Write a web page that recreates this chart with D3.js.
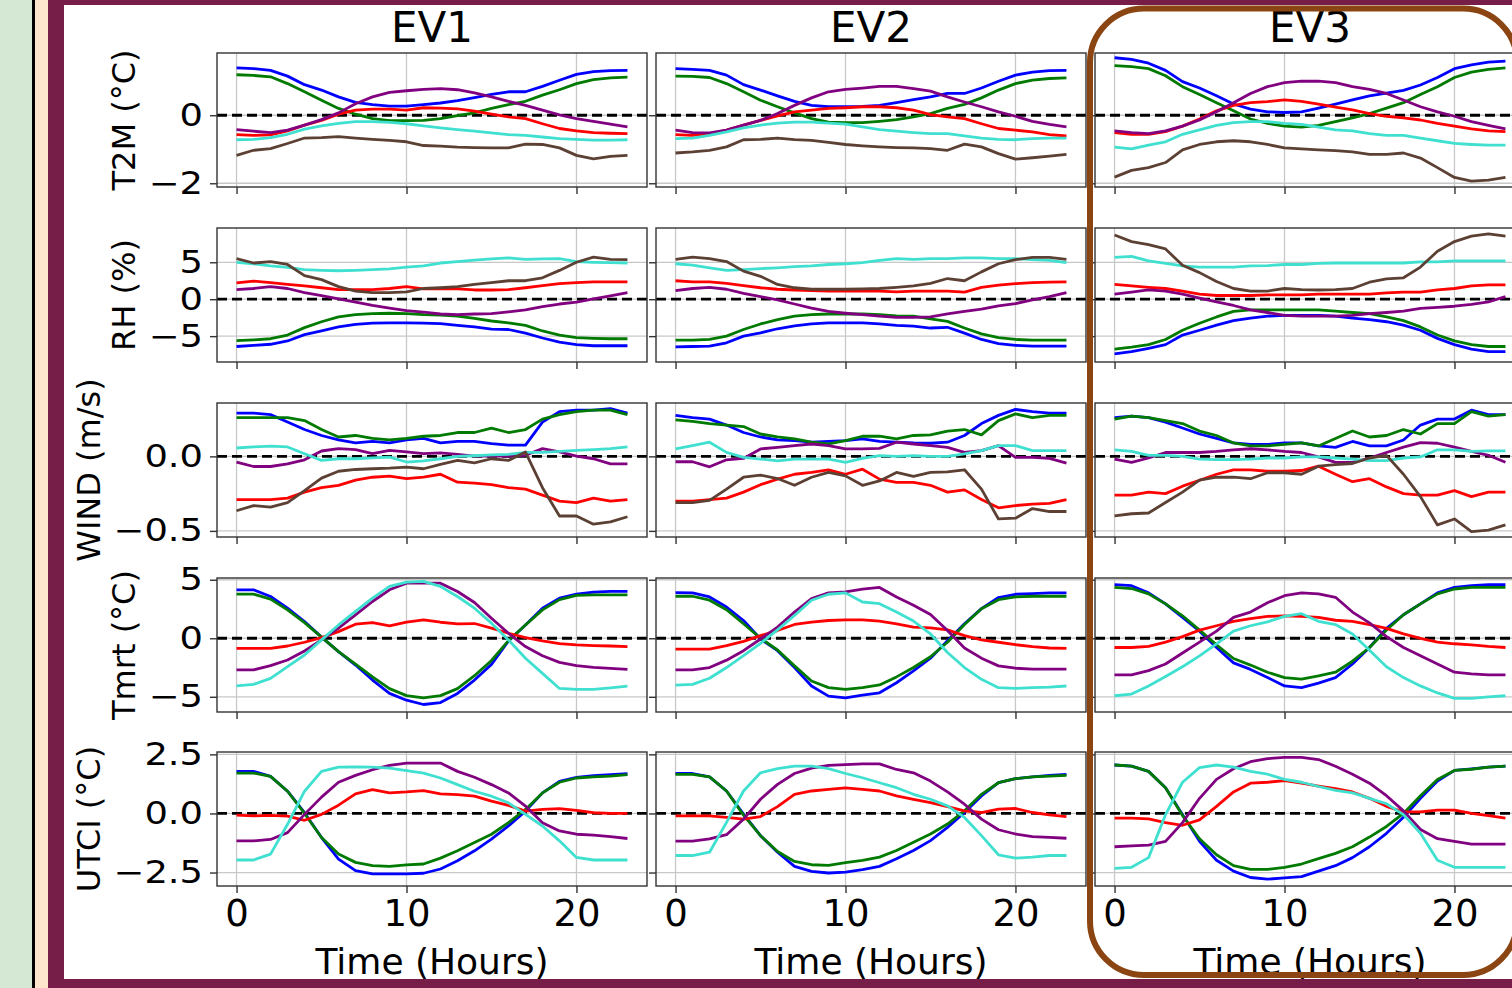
<!DOCTYPE html>
<html>
<head>
<meta charset="utf-8">
<script src="https://cdn.jsdelivr.net/npm/d3@7"></script>
<style>
  html, body { margin: 0; padding: 0; background: #d5e8d3; }
  svg { display: block; font-family: "DejaVu Sans", sans-serif; }
</style>
</head>
<body>
<div id="chart"></div>
<script>
// ---- data ----
const hours = [0, 1, 2, 3, 4, 5, 6, 7, 8, 9, 10, 11, 12, 13, 14, 15, 16, 17, 18, 19, 20, 21, 22, 23];
const events = ["EV1", "EV2", "EV3"];
const variables = ["T2M (°C)", "RH (%)", "WIND (m/s)", "Tmrt (°C)", "UTCI (°C)"];
const yTickValues = [[-2, 0], [-5, 0, 5], [-0.5, 0], [-5, 0, 5], [-2.5, 0, 2.5]];
const yTickLabels = [["−2", "0"], ["−5", "0", "5"], ["−0.5", "0.0"], ["−5", "0", "5"], ["−2.5", "0.0", "2.5"]];
const xTickValues = [0, 10, 20];
const xTickLabels = ["0", "10", "20"];
const yDomains = [[-2.11, 1.83], [-8.5, 9.64], [-0.541, 0.358], [-6.3, 5.15], [-3.07, 2.6]];

const T2M_EV1 = {
  blue: [1.39, 1.37, 1.32, 1.15, 0.9, 0.74, 0.54, 0.38, 0.31, 0.27, 0.27, 0.31, 0.36, 0.43, 0.52, 0.61, 0.69, 0.69, 0.85, 1.03, 1.2, 1.28, 1.31, 1.32],
  green: [1.19, 1.17, 1.13, 0.93, 0.69, 0.44, 0.2, 0.03, -0.1, -0.16, -0.16, -0.15, -0.1, -0.01, 0.07, 0.2, 0.31, 0.41, 0.59, 0.75, 0.93, 1.05, 1.1, 1.12],
  red: [-0.57, -0.59, -0.58, -0.46, -0.29, -0.15, 0.03, 0.15, 0.18, 0.18, 0.15, 0.22, 0.21, 0.19, 0.12, 0.03, -0.05, -0.1, -0.25, -0.39, -0.46, -0.51, -0.53, -0.54],
  purple: [-0.42, -0.47, -0.51, -0.44, -0.29, -0.13, 0.07, 0.34, 0.54, 0.67, 0.72, 0.76, 0.78, 0.75, 0.66, 0.54, 0.41, 0.29, 0.15, 0.01, -0.1, -0.18, -0.26, -0.34],
  turquoise: [-0.72, -0.71, -0.66, -0.56, -0.41, -0.31, -0.24, -0.19, -0.19, -0.21, -0.25, -0.31, -0.37, -0.42, -0.47, -0.52, -0.57, -0.59, -0.64, -0.69, -0.71, -0.73, -0.73, -0.72],
  brown: [-1.18, -1.03, -0.98, -0.83, -0.67, -0.66, -0.63, -0.67, -0.71, -0.74, -0.78, -0.89, -0.91, -0.94, -0.95, -0.96, -0.96, -0.85, -0.86, -0.96, -1.18, -1.28, -1.21, -1.18]
};
const T2M_EV2 = {
  blue: [1.37, 1.35, 1.32, 1.18, 0.9, 0.74, 0.57, 0.41, 0.29, 0.25, 0.25, 0.26, 0.29, 0.37, 0.46, 0.54, 0.64, 0.64, 0.8, 1.0, 1.18, 1.27, 1.31, 1.32],
  green: [1.15, 1.14, 1.11, 0.93, 0.69, 0.44, 0.25, 0.07, -0.1, -0.2, -0.22, -0.22, -0.18, -0.13, -0.05, 0.05, 0.2, 0.32, 0.51, 0.74, 0.93, 1.03, 1.08, 1.1],
  red: [-0.57, -0.59, -0.55, -0.44, -0.29, -0.15, -0.02, 0.1, 0.15, 0.2, 0.22, 0.25, 0.25, 0.22, 0.15, 0.02, -0.05, -0.1, -0.25, -0.39, -0.44, -0.49, -0.57, -0.61],
  purple: [-0.44, -0.51, -0.52, -0.44, -0.29, -0.15, 0.05, 0.29, 0.51, 0.69, 0.76, 0.8, 0.85, 0.85, 0.78, 0.71, 0.54, 0.39, 0.25, 0.1, -0.03, -0.18, -0.27, -0.34],
  turquoise: [-0.69, -0.67, -0.59, -0.49, -0.37, -0.29, -0.23, -0.2, -0.2, -0.23, -0.26, -0.34, -0.42, -0.47, -0.51, -0.54, -0.54, -0.61, -0.67, -0.71, -0.72, -0.69, -0.67, -0.67],
  brown: [-1.11, -1.08, -1.03, -0.93, -0.72, -0.71, -0.67, -0.72, -0.74, -0.8, -0.86, -0.9, -0.93, -0.95, -0.96, -0.98, -1.03, -0.85, -0.93, -1.13, -1.29, -1.25, -1.2, -1.15]
};
const T2M_EV3 = {
  blue: [1.69, 1.64, 1.53, 1.32, 0.99, 0.8, 0.57, 0.33, 0.18, 0.1, 0.08, 0.1, 0.21, 0.33, 0.45, 0.57, 0.65, 0.73, 0.89, 1.11, 1.37, 1.48, 1.56, 1.59],
  green: [1.46, 1.43, 1.37, 1.16, 0.84, 0.61, 0.37, 0.13, -0.11, -0.24, -0.32, -0.35, -0.3, -0.19, -0.08, 0.05, 0.21, 0.37, 0.61, 0.84, 1.11, 1.27, 1.35, 1.39],
  red: [-0.51, -0.56, -0.56, -0.48, -0.32, -0.11, 0.13, 0.29, 0.37, 0.4, 0.45, 0.41, 0.33, 0.24, 0.16, 0.05, -0.03, -0.08, -0.14, -0.24, -0.32, -0.4, -0.46, -0.48],
  purple: [-0.46, -0.51, -0.54, -0.46, -0.32, -0.14, 0.1, 0.37, 0.64, 0.84, 0.96, 1.0, 1.0, 0.96, 0.84, 0.76, 0.64, 0.45, 0.25, 0.1, -0.03, -0.19, -0.3, -0.4],
  turquoise: [-0.94, -0.99, -0.88, -0.78, -0.56, -0.43, -0.3, -0.22, -0.19, -0.19, -0.24, -0.27, -0.35, -0.43, -0.46, -0.54, -0.59, -0.59, -0.67, -0.75, -0.83, -0.86, -0.88, -0.88],
  brown: [-1.82, -1.62, -1.54, -1.39, -1.02, -0.86, -0.78, -0.75, -0.78, -0.86, -0.96, -0.99, -1.02, -1.04, -1.08, -1.15, -1.15, -1.11, -1.26, -1.54, -1.83, -1.94, -1.91, -1.83]
};

const RH_EV1 = {
  blue: [-6.4, -6.25, -6.1, -5.65, -4.8, -4.3, -3.75, -3.4, -3.25, -3.2, -3.2, -3.25, -3.3, -3.55, -3.75, -4.05, -4.1, -4.6, -5.25, -5.8, -6.15, -6.3, -6.3, -6.3],
  green: [-5.6, -5.5, -5.35, -4.85, -3.85, -3.05, -2.4, -2.1, -1.95, -1.9, -1.95, -2.1, -2.15, -2.3, -2.6, -2.95, -3.2, -3.55, -4.3, -4.85, -5.2, -5.3, -5.35, -5.35],
  red: [2.2, 2.45, 2.25, 2.0, 1.8, 1.55, 1.3, 1.3, 1.3, 1.45, 1.7, 1.4, 1.45, 1.4, 1.25, 1.25, 1.3, 1.55, 1.85, 2.1, 2.25, 2.35, 2.35, 2.35],
  purple: [1.3, 1.45, 1.7, 1.45, 0.9, 0.5, 0.05, -0.4, -0.85, -1.2, -1.55, -1.75, -2.0, -2.1, -2.0, -1.95, -1.7, -1.45, -1.0, -0.65, -0.4, 0.05, 0.45, 0.9],
  turquoise: [5.0, 4.8, 4.5, 4.3, 4.0, 3.9, 3.85, 3.9, 4.0, 4.1, 4.35, 4.5, 4.9, 5.1, 5.3, 5.45, 5.6, 5.4, 5.45, 5.5, 5.1, 5.0, 4.95, 4.9],
  brown: [5.5, 4.9, 5.1, 4.7, 3.2, 2.65, 1.7, 1.1, 0.9, 0.9, 1.0, 1.45, 1.55, 1.7, 2.0, 2.25, 2.5, 2.5, 2.9, 3.9, 5.0, 5.7, 5.4, 5.35]
};
const RH_EV2 = {
  blue: [-6.45, -6.4, -6.35, -5.9, -5.0, -4.55, -4.0, -3.6, -3.35, -3.2, -3.2, -3.2, -3.35, -3.55, -3.65, -3.9, -3.8, -4.6, -5.45, -6.0, -6.25, -6.35, -6.35, -6.35],
  green: [-5.55, -5.55, -5.45, -5.0, -4.1, -3.35, -2.75, -2.3, -2.1, -2.0, -2.0, -2.0, -2.1, -2.25, -2.3, -2.65, -3.0, -3.9, -4.7, -5.2, -5.45, -5.55, -5.55, -5.55],
  red: [2.5, 2.35, 2.35, 2.15, 1.85, 1.55, 1.35, 1.25, 1.15, 1.1, 1.1, 1.1, 1.1, 1.0, 1.1, 1.1, 1.1, 0.95, 1.6, 1.9, 2.1, 2.25, 2.3, 2.35],
  purple: [1.15, 1.45, 1.6, 1.35, 0.8, 0.35, -0.1, -0.65, -1.2, -1.65, -1.9, -2.1, -2.3, -2.45, -2.45, -2.4, -2.0, -1.65, -1.35, -0.9, -0.6, -0.1, 0.35, 0.9],
  turquoise: [4.8, 4.6, 4.25, 3.9, 4.0, 4.15, 4.25, 4.4, 4.5, 4.7, 4.8, 4.95, 5.25, 5.5, 5.4, 5.5, 5.5, 5.6, 5.6, 5.5, 5.5, 5.35, 5.25, 4.95],
  brown: [5.4, 5.7, 5.5, 5.1, 3.8, 3.1, 2.0, 1.55, 1.35, 1.35, 1.35, 1.4, 1.45, 1.6, 1.8, 2.15, 2.8, 2.5, 3.7, 4.8, 5.35, 5.65, 5.65, 5.4]
};
const RH_EV3 = {
  blue: [-7.4, -7.1, -6.65, -6.15, -4.85, -4.2, -3.5, -2.9, -2.55, -2.3, -2.2, -2.2, -2.2, -2.3, -2.55, -2.75, -3.05, -3.5, -4.2, -5.3, -6.15, -6.75, -7.1, -7.1],
  green: [-6.75, -6.5, -6.15, -5.45, -4.2, -3.25, -2.4, -1.65, -1.45, -1.45, -1.45, -1.45, -1.45, -1.6, -1.8, -1.95, -2.4, -2.9, -3.75, -4.85, -5.65, -6.15, -6.4, -6.4],
  red: [2.0, 1.8, 1.6, 1.45, 1.1, 0.7, 0.5, 0.5, 0.5, 0.6, 0.6, 0.6, 0.7, 0.7, 0.7, 0.7, 0.85, 0.95, 0.95, 1.25, 1.45, 1.8, 1.95, 1.95],
  purple: [0.7, 0.95, 1.25, 1.1, 0.7, 0.15, -0.35, -0.85, -1.45, -1.8, -2.2, -2.3, -2.3, -2.3, -2.2, -1.95, -1.8, -1.6, -1.25, -1.1, -0.95, -0.7, -0.35, 0.35],
  turquoise: [5.65, 5.8, 5.2, 4.85, 4.5, 4.35, 4.35, 4.35, 4.5, 4.55, 4.7, 4.7, 4.85, 4.9, 4.9, 4.9, 4.9, 4.9, 5.05, 5.05, 5.2, 5.2, 5.2, 5.2],
  brown: [8.7, 7.8, 7.4, 6.8, 4.6, 3.6, 2.4, 1.45, 1.1, 1.1, 1.45, 1.3, 1.25, 1.3, 1.45, 2.3, 2.75, 2.9, 4.35, 6.5, 7.8, 8.55, 8.85, 8.55]
};

const WIND_EV1 = {
  blue: [0.29, 0.29, 0.28, 0.23, 0.18, 0.14, 0.11, 0.09, 0.1, 0.09, 0.11, 0.12, 0.09, 0.1, 0.1, 0.085, 0.075, 0.075, 0.23, 0.3, 0.31, 0.31, 0.32, 0.29],
  green: [0.26, 0.26, 0.26, 0.26, 0.24, 0.18, 0.13, 0.14, 0.12, 0.11, 0.12, 0.135, 0.14, 0.16, 0.16, 0.19, 0.16, 0.18, 0.25, 0.28, 0.3, 0.31, 0.31, 0.28],
  red: [-0.29, -0.29, -0.29, -0.28, -0.24, -0.21, -0.195, -0.16, -0.14, -0.133, -0.15, -0.14, -0.12, -0.173, -0.18, -0.19, -0.21, -0.22, -0.26, -0.3, -0.31, -0.28, -0.3, -0.29],
  purple: [-0.038, -0.068, -0.068, -0.05, -0.023, 0.036, 0.052, 0.045, 0.018, 0.04, 0.03, 0.018, 0.023, 0.013, 0.002, 0.004, 0.002, 0.007, 0.052, 0.03, 0.002, -0.016, -0.05, -0.05],
  turquoise: [0.056, 0.063, 0.068, 0.063, 0.018, -0.027, -0.016, -0.016, -0.01, -0.005, -0.038, -0.03, -0.016, 0.0, 0.004, 0.01, 0.013, 0.027, 0.027, 0.034, 0.04, 0.045, 0.052, 0.063],
  brown: [-0.365, -0.33, -0.34, -0.31, -0.23, -0.146, -0.1, -0.088, -0.083, -0.079, -0.072, -0.083, -0.054, -0.027, -0.043, -0.016, -0.027, 0.029, -0.21, -0.4, -0.4, -0.455, -0.44, -0.405]
};
const WIND_EV2 = {
  blue: [0.275, 0.26, 0.25, 0.21, 0.16, 0.13, 0.11, 0.105, 0.095, 0.1, 0.105, 0.117, 0.1, 0.095, 0.09, 0.088, 0.095, 0.14, 0.22, 0.275, 0.315, 0.3, 0.29, 0.29],
  green: [0.245, 0.235, 0.22, 0.21, 0.2, 0.15, 0.13, 0.117, 0.095, 0.083, 0.105, 0.135, 0.135, 0.117, 0.14, 0.144, 0.17, 0.18, 0.144, 0.24, 0.285, 0.26, 0.275, 0.275],
  red: [-0.3, -0.3, -0.29, -0.28, -0.24, -0.19, -0.153, -0.12, -0.108, -0.09, -0.12, -0.086, -0.153, -0.175, -0.175, -0.194, -0.24, -0.225, -0.29, -0.345, -0.33, -0.32, -0.315, -0.29],
  purple: [-0.036, -0.036, -0.07, -0.023, -0.014, 0.05, 0.06, 0.072, 0.083, 0.072, 0.05, 0.05, 0.054, 0.095, 0.083, 0.072, 0.06, 0.027, 0.038, 0.072, -0.007, -0.007, -0.014, -0.045],
  turquoise: [0.05, 0.072, 0.095, 0.027, -0.007, -0.018, -0.03, -0.018, -0.018, -0.018, -0.04, -0.014, 0.005, 0.0, 0.005, 0.0, 0.0, 0.016, 0.038, 0.072, 0.072, 0.038, 0.038, 0.038],
  brown: [-0.31, -0.31, -0.295, -0.22, -0.14, -0.126, -0.149, -0.194, -0.14, -0.108, -0.131, -0.194, -0.165, -0.108, -0.135, -0.108, -0.104, -0.09, -0.22, -0.42, -0.415, -0.35, -0.37, -0.37]
};
const WIND_EV3 = {
  blue: [0.26, 0.27, 0.26, 0.23, 0.19, 0.15, 0.12, 0.09, 0.08, 0.08, 0.09, 0.09, 0.07, 0.06, 0.1, 0.07, 0.07, 0.11, 0.21, 0.25, 0.25, 0.31, 0.28, 0.28],
  green: [0.25, 0.27, 0.26, 0.24, 0.22, 0.17, 0.14, 0.09, 0.07, 0.07, 0.08, 0.09, 0.07, 0.12, 0.17, 0.13, 0.14, 0.18, 0.15, 0.22, 0.22, 0.3, 0.27, 0.28],
  red: [-0.26, -0.26, -0.24, -0.25, -0.2, -0.16, -0.12, -0.09, -0.09, -0.1, -0.1, -0.095, -0.066, -0.12, -0.17, -0.15, -0.205, -0.25, -0.26, -0.26, -0.23, -0.27, -0.24, -0.24],
  purple: [-0.018, -0.04, -0.011, 0.026, 0.026, 0.026, 0.033, 0.044, 0.051, 0.044, 0.033, 0.026, -0.004, -0.04, -0.04, -0.011, 0.026, 0.062, 0.092, 0.088, 0.062, 0.033, 0.007, -0.04],
  turquoise: [0.044, 0.033, 0.007, 0.007, 0.0, -0.018, -0.022, -0.022, -0.018, -0.011, -0.011, -0.004, -0.004, -0.011, -0.018, -0.029, -0.029, -0.011, -0.004, 0.044, 0.044, 0.033, 0.037, 0.037],
  brown: [-0.4, -0.385, -0.38, -0.31, -0.24, -0.16, -0.14, -0.14, -0.15, -0.11, -0.11, -0.12, -0.066, -0.055, -0.048, -0.011, 0.007, -0.12, -0.27, -0.46, -0.42, -0.505, -0.495, -0.46]
};

const TMRT_EV1 = {
  blue: [4.14, 4.14, 3.57, 2.57, 1.43, 0.1, -1.14, -2.29, -3.57, -4.71, -5.29, -5.66, -5.49, -4.71, -3.57, -2.23, -0.23, 1.14, 2.57, 3.43, 3.77, 3.94, 4.0, 4.0],
  green: [3.77, 3.77, 3.34, 2.43, 1.34, 0.1, -1.14, -2.2, -3.3, -4.3, -4.9, -5.09, -4.9, -4.3, -3.2, -1.9, -0.2, 1.14, 2.43, 3.3, 3.66, 3.71, 3.71, 3.71],
  red: [-0.86, -0.86, -0.86, -0.66, -0.34, 0.06, 0.57, 1.2, 1.34, 1.06, 1.37, 1.57, 1.37, 1.23, 1.26, 0.86, 0.43, 0.06, -0.23, -0.46, -0.57, -0.63, -0.66, -0.71],
  purple: [-2.7, -2.7, -2.34, -1.86, -1.09, -0.14, 0.86, 2.0, 3.14, 4.14, 4.71, 4.71, 4.71, 4.0, 3.06, 1.71, 0.43, -0.71, -1.49, -2.06, -2.34, -2.49, -2.57, -2.66],
  turquoise: [-4.06, -3.94, -3.43, -2.43, -1.43, -0.14, 1.14, 2.29, 3.43, 4.43, 4.8, 4.86, 4.43, 3.57, 2.57, 1.29, -0.14, -1.71, -3.0, -4.29, -4.37, -4.37, -4.23, -4.09]
};
const TMRT_EV2 = {
  blue: [3.9, 3.88, 3.53, 2.67, 1.52, -0.06, -1.06, -2.5, -4.08, -4.94, -5.09, -4.86, -4.66, -3.8, -2.79, -1.7, -0.2, 1.24, 2.53, 3.48, 3.76, 3.82, 3.88, 3.88],
  green: [3.59, 3.59, 3.25, 2.44, 1.24, 0.0, -1.0, -2.36, -3.65, -4.22, -4.37, -4.22, -3.99, -3.3, -2.5, -1.58, -0.34, 1.18, 2.53, 3.3, 3.53, 3.59, 3.59, 3.59],
  red: [-0.92, -0.92, -0.92, -0.63, -0.26, 0.23, 0.66, 1.18, 1.38, 1.52, 1.58, 1.58, 1.47, 1.24, 0.95, 0.89, 0.72, 0.23, -0.14, -0.34, -0.55, -0.72, -0.83, -0.86],
  purple: [-2.7, -2.7, -2.5, -1.87, -1.06, -0.06, 0.95, 2.24, 3.39, 3.88, 3.97, 4.2, 4.34, 3.53, 2.82, 2.04, 0.66, -0.83, -1.7, -2.36, -2.56, -2.64, -2.64, -2.64],
  turquoise: [-4.0, -3.94, -3.42, -2.5, -1.49, -0.43, 0.72, 1.95, 3.25, 3.76, 3.88, 3.1, 2.96, 2.24, 1.47, 0.37, -1.21, -2.5, -3.51, -4.22, -4.28, -4.22, -4.17, -4.08]
};
const TMRT_EV3 = {
  blue: [4.58, 4.49, 3.88, 2.94, 1.78, 0.61, -0.79, -2.1, -2.66, -3.36, -4.07, -4.21, -3.83, -3.36, -2.2, -0.79, 0.84, 2.01, 2.94, 3.88, 4.35, 4.49, 4.58, 4.58],
  green: [4.35, 4.25, 3.79, 2.94, 1.92, 0.7, -0.56, -1.73, -2.29, -2.9, -3.36, -3.5, -3.22, -2.9, -1.96, -0.79, 0.7, 2.01, 2.94, 3.79, 4.21, 4.35, 4.35, 4.35],
  red: [-0.79, -0.79, -0.7, -0.33, 0.14, 0.7, 1.07, 1.45, 1.68, 1.87, 1.92, 1.87, 1.78, 1.54, 1.45, 1.17, 0.84, 0.37, 0.0, -0.33, -0.47, -0.56, -0.7, -0.79],
  purple: [-3.13, -3.13, -2.76, -2.2, -1.26, -0.33, 0.61, 1.78, 2.24, 3.04, 3.64, 3.88, 3.79, 3.5, 2.24, 1.31, 0.14, -0.79, -1.5, -2.2, -2.9, -3.04, -3.13, -3.13],
  turquoise: [-4.91, -4.77, -4.07, -3.27, -2.43, -1.5, -0.47, 0.61, 1.07, 1.4, 1.87, 2.1, 1.45, 1.17, 0.37, -1.03, -2.43, -3.36, -4.07, -4.67, -5.14, -5.14, -5.0, -4.91]
};

const UTCI_EV1 = {
  blue: [1.78, 1.78, 1.57, 0.94, 0.03, -1.02, -1.93, -2.42, -2.56, -2.56, -2.56, -2.53, -2.35, -2.0, -1.58, -1.09, -0.53, 0.1, 0.87, 1.36, 1.53, 1.6, 1.64, 1.68],
  green: [1.71, 1.71, 1.57, 0.94, 0.0, -1.02, -1.72, -2.07, -2.21, -2.24, -2.18, -2.14, -1.89, -1.58, -1.23, -0.88, -0.39, 0.17, 0.87, 1.32, 1.5, 1.55, 1.58, 1.64],
  red: [-0.07, -0.1, -0.08, -0.11, -0.29, -0.04, 0.35, 0.83, 1.01, 0.87, 0.91, 0.97, 0.83, 0.8, 0.73, 0.52, 0.34, 0.1, 0.17, 0.2, 0.13, 0.03, 0.0, 0.0],
  purple: [-1.16, -1.16, -1.1, -0.81, -0.04, 0.69, 1.32, 1.61, 1.85, 2.03, 2.13, 2.13, 2.13, 1.78, 1.53, 1.22, 0.87, 0.31, -0.39, -0.74, -0.88, -0.92, -0.98, -1.06],
  turquoise: [-1.97, -1.97, -1.72, -0.46, 0.94, 1.78, 1.96, 1.97, 1.96, 1.92, 1.81, 1.71, 1.5, 1.22, 0.94, 0.73, 0.45, -0.04, -0.53, -1.16, -1.86, -1.97, -1.97, -1.97]
};
const UTCI_EV2 = {
  blue: [1.69, 1.69, 1.55, 0.95, -0.03, -0.94, -1.64, -2.24, -2.45, -2.52, -2.48, -2.38, -2.24, -1.92, -1.57, -1.15, -0.59, 0.04, 0.74, 1.3, 1.47, 1.55, 1.61, 1.65],
  green: [1.65, 1.65, 1.55, 0.95, -0.07, -0.94, -1.61, -2.03, -2.17, -2.2, -2.08, -1.99, -1.85, -1.57, -1.22, -0.87, -0.45, 0.11, 0.81, 1.3, 1.47, 1.55, 1.58, 1.61],
  red: [-0.1, -0.1, -0.1, -0.17, -0.24, -0.13, 0.29, 0.81, 0.95, 1.02, 1.08, 1.02, 0.95, 0.74, 0.6, 0.46, 0.29, 0.11, 0.04, 0.18, 0.21, 0.04, -0.06, -0.13],
  purple: [-1.17, -1.17, -1.08, -0.9, -0.24, 0.6, 1.23, 1.69, 1.92, 2.03, 2.07, 2.1, 2.1, 1.86, 1.72, 1.37, 0.91, 0.39, -0.24, -0.69, -0.87, -0.98, -1.01, -1.05],
  turquoise: [-1.78, -1.78, -1.64, -0.38, 0.95, 1.72, 1.9, 2.0, 2.0, 1.9, 1.69, 1.51, 1.3, 1.09, 0.81, 0.6, 0.32, -0.17, -0.94, -1.75, -1.89, -1.85, -1.78, -1.78]
};
const UTCI_EV3 = {
  blue: [2.05, 2.0, 1.78, 1.09, -0.05, -1.18, -1.98, -2.44, -2.71, -2.78, -2.73, -2.67, -2.44, -2.21, -1.87, -1.41, -0.84, -0.16, 0.64, 1.37, 1.82, 1.89, 1.96, 2.0],
  green: [2.05, 2.0, 1.78, 1.09, -0.09, -1.07, -1.75, -2.21, -2.37, -2.37, -2.28, -2.14, -1.91, -1.69, -1.41, -1.0, -0.55, 0.0, 0.75, 1.44, 1.82, 1.87, 1.96, 2.0],
  red: [-0.2, -0.2, -0.23, -0.39, -0.5, -0.27, 0.3, 0.91, 1.28, 1.32, 1.39, 1.28, 1.16, 1.05, 0.91, 0.64, 0.3, 0.07, 0.07, 0.14, 0.14, 0.0, -0.09, -0.2],
  purple: [-1.41, -1.37, -1.34, -1.18, -0.39, 0.64, 1.44, 1.89, 2.19, 2.32, 2.37, 2.37, 2.28, 2.0, 1.66, 1.28, 0.75, 0.11, -0.68, -1.07, -1.18, -1.3, -1.3, -1.3],
  turquoise: [-2.32, -2.28, -1.87, -0.05, 1.32, 1.94, 2.05, 1.96, 1.78, 1.66, 1.44, 1.32, 1.14, 0.98, 0.87, 0.64, 0.41, -0.05, -0.84, -1.98, -2.28, -2.28, -2.28, -2.28]
};

const panels = [
  [T2M_EV1, T2M_EV2, T2M_EV3],
  [RH_EV1, RH_EV2, RH_EV3],
  [WIND_EV1, WIND_EV2, WIND_EV3],
  [TMRT_EV1, TMRT_EV2, TMRT_EV3],
  [UTCI_EV1, UTCI_EV2, UTCI_EV3]
];

// ---- styles / layout ----
const lineColors = {
  blue: "#0000ff", green: "#007a00", red: "#ff0000",
  purple: "#800080", turquoise: "#40e0d0", brown: "#5c4033"
};
const colLeft = [217, 656, 1095];
const rowTop = [53, 228, 403, 578, 752];
const plotW = 430, plotH = 134;
const tickFont = 31.5, tickStretch = 1.17; // the y tick text is a little wider than tall
const xTickFont = 37;

const svg = d3.select("#chart").append("svg")
  .attr("width", 1512).attr("height", 988);

// slide frame around the figure
svg.append("rect").attr("width", 1512).attr("height", 988).attr("fill", "#d5e8d3");
svg.append("rect").attr("x", 32).attr("width", 3).attr("height", 988).attr("fill", "#000");
svg.append("rect").attr("x", 35).attr("width", 13).attr("height", 988).attr("fill", "#fde4cd");
svg.append("rect").attr("x", 48).attr("width", 1464).attr("height", 988).attr("fill", "#761d48");
svg.append("rect").attr("x", 64).attr("y", 5).attr("width", 1448).attr("height", 974).attr("fill", "#fff");

const x = d3.scaleLinear().domain([-1.15, 24.15]).range([0, plotW]);

panels.forEach((row, r) => {
  const y = d3.scaleLinear().domain(yDomains[r]).range([plotH, 0]);
  const line = d3.line()
    .x((d, i) => x(hours[i]))
    .y((d) => y(d));

  row.forEach((series, c) => {
    const g = svg.append("g")
      .attr("transform", "translate(" + colLeft[c] + "," + rowTop[r] + ")");

    // grid
    g.selectAll(".vgrid").data(xTickValues).join("line")
      .attr("x1", (d) => x(d)).attr("x2", (d) => x(d))
      .attr("y1", 0).attr("y2", plotH)
      .attr("stroke", "#c8c8c8").attr("stroke-width", 1.3);
    g.selectAll(".hgrid").data(yTickValues[r]).join("line")
      .attr("x1", 0).attr("x2", plotW)
      .attr("y1", (d) => y(d)).attr("y2", (d) => y(d))
      .attr("stroke", "#c8c8c8").attr("stroke-width", 1.3);

    // zero reference
    g.append("line")
      .attr("x1", 0).attr("x2", plotW)
      .attr("y1", y(0)).attr("y2", y(0))
      .attr("stroke", "#000").attr("stroke-width", 2.8)
      .attr("stroke-dasharray", "10,5");

    Object.keys(series).forEach((key) => {
      g.append("path")
        .datum(series[key])
        .attr("fill", "none")
        .attr("stroke", lineColors[key])
        .attr("stroke-width", 2.8)
        .attr("stroke-linejoin", "round")
        .attr("d", line);
    });

    g.append("rect")
      .attr("width", plotW).attr("height", plotH)
      .attr("fill", "none").attr("stroke", "#333").attr("stroke-width", 1.4);

    const yAxis = g.append("g")
      .call(d3.axisLeft(y).tickValues(yTickValues[r]).tickSize(7).tickPadding(7)
        .tickFormat((d, i) => (c === 0 ? yTickLabels[r][i] : "")));
    const xAxis = g.append("g")
      .attr("transform", "translate(0," + plotH + ")")
      .call(d3.axisBottom(x).tickValues(xTickValues).tickSize(7).tickPadding(7)
        .tickFormat((d, i) => (r === 4 ? xTickLabels[i] : "")));
    [yAxis, xAxis].forEach((a) => {
      a.select(".domain").remove();
      a.attr("font-size", null).attr("font-family", null);
      a.selectAll("line").attr("stroke", "#333").attr("stroke-width", 1.4);
      a.selectAll("text").attr("fill", "#000");
    });
    yAxis.selectAll("text")
      .attr("font-size", tickFont)
      .attr("x", -14 / tickStretch)
      .attr("transform", "scale(" + tickStretch + ",1)");
    xAxis.selectAll("text").attr("font-size", xTickFont);

    if (r === 0) {
      g.append("text")
        .attr("x", plotW / 2).attr("y", 42 - rowTop[0])
        .attr("text-anchor", "middle").attr("font-size", 42)
        .text(events[c]);
    }
    if (r === 4) {
      g.append("text")
        .attr("x", plotW / 2).attr("y", 974 - rowTop[4])
        .attr("text-anchor", "middle").attr("font-size", 36)
        .text("Time (Hours)");
    }
    if (c === 0) {
      const box = yAxis.node().getBBox();
      g.append("text")
        .attr("transform", "translate(" + (box.x - 14) + "," + plotH / 2 + ") rotate(-90)")
        .attr("text-anchor", "middle").attr("font-size", 32)
        .text(variables[r]);
    }
  });
});

// highlight box around EV3 and bottom frame edge
svg.append("rect")
  .attr("x", 1090).attr("y", 8.5).attr("width", 427).attr("height", 966.5)
  .attr("rx", 54).attr("ry", 54)
  .attr("fill", "none").attr("stroke", "#8b4513").attr("stroke-width", 6);
svg.append("rect").attr("x", 48).attr("y", 979).attr("width", 1464).attr("height", 9).attr("fill", "#761d48");
</script>
</body>
</html>
